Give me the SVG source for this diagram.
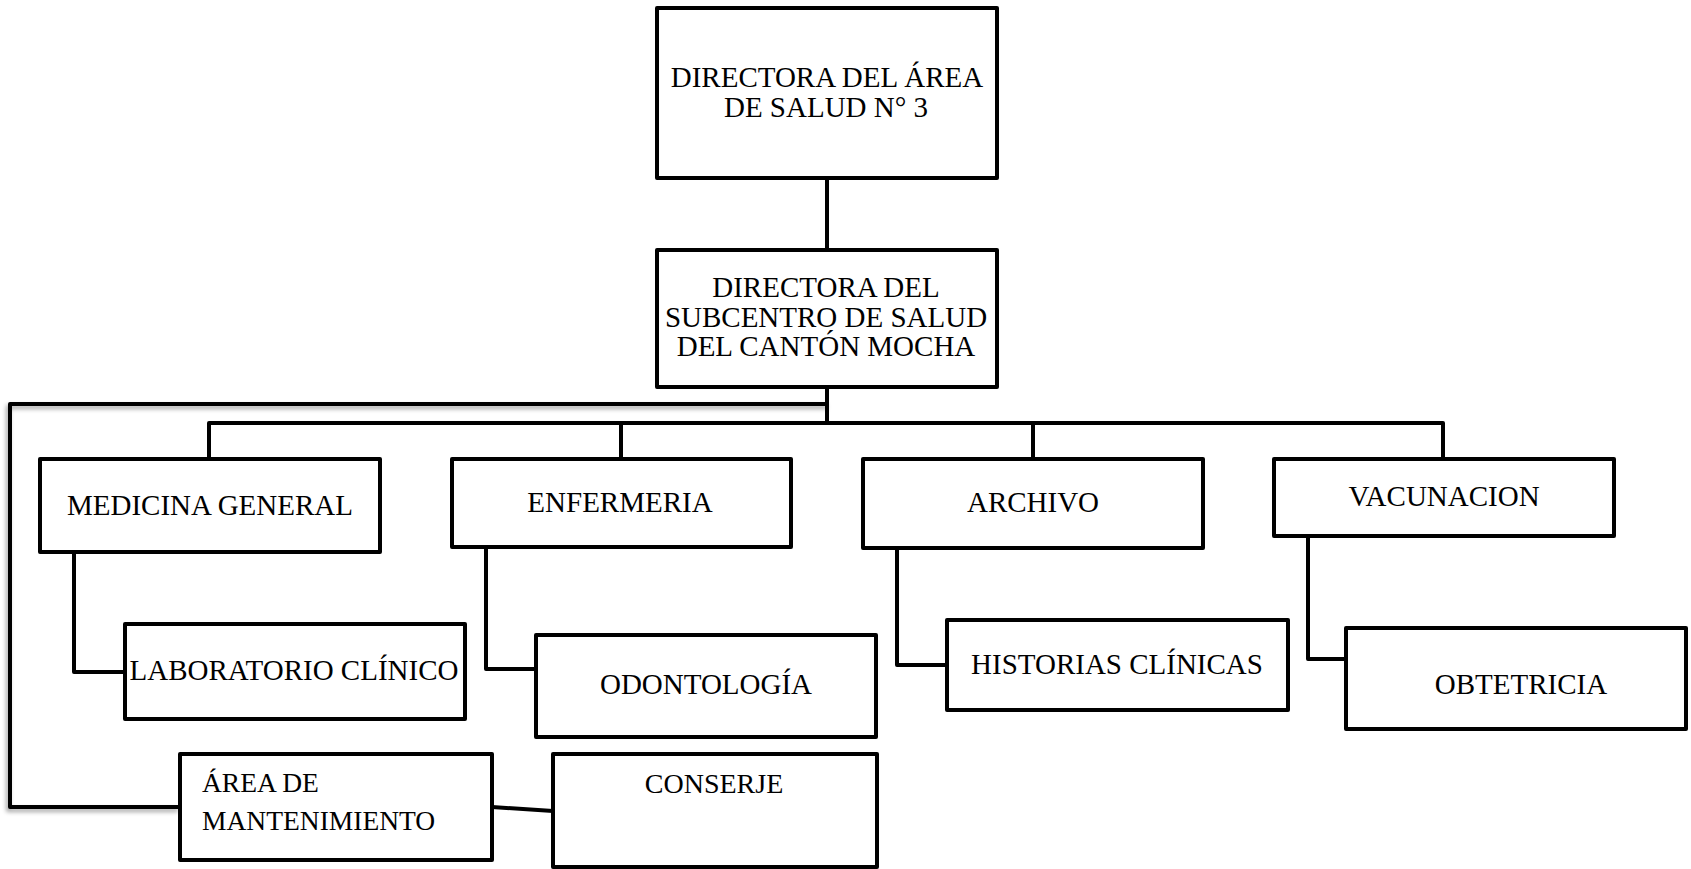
<svg xmlns="http://www.w3.org/2000/svg" width="1691" height="869" viewBox="0 0 1691 869">
<style>
.box{fill:#fff;stroke:#000;stroke-width:4;stroke-linejoin:round}
.ln{fill:none;stroke:#000;stroke-width:4;stroke-linejoin:round}
.t{font-family:"Liberation Serif","Times New Roman",serif;font-size:29px;fill:#000;text-anchor:middle}
.ts{font-family:"Liberation Serif","Times New Roman",serif;font-size:27.5px;fill:#000}
</style>
<defs>
<filter id="sh" x="-5%" y="-20%" width="110%" height="140%">
<feDropShadow dx="-2" dy="3" stdDeviation="2" flood-color="#000" flood-opacity="0.35"/>
</filter>
</defs>
<rect width="1691" height="869" fill="#fff"/>
<g id="connectors">
<path class="ln" filter="url(#sh)" d="M829,404 H10 V807 H180"/>
<path class="ln" d="M827,178 V250"/>
<path class="ln" d="M827,387 V423"/>
<path class="ln" d="M209,459 V423 H1443 V459"/>
<path class="ln" d="M621,423 V459"/>
<path class="ln" d="M1033,423 V459"/>
<path class="ln" d="M74,552 V672 H125"/>
<path class="ln" d="M486,547 V669 H536"/>
<path class="ln" d="M897,548 V665 H947"/>
<path class="ln" d="M1308,536 V659 H1346"/>
<path class="ln" d="M492,807 L553,811"/>
</g>
<g id="n-direc-area">
<rect class="box" x="657" y="8" width="340" height="170"/>
<text class="t" x="827" y="87">DIRECTORA DEL ÁREA</text>
<text class="t" x="826" y="117">DE SALUD N° 3</text>
</g>
<g id="n-direc-subcentro">
<rect class="box" x="657" y="250" width="340" height="137"/>
<text class="t" x="826" y="297">DIRECTORA DEL</text>
<text class="t" x="826" y="327">SUBCENTRO DE SALUD</text>
<text class="t" x="826" y="356">DEL CANTÓN MOCHA</text>
</g>
<g id="n-medicina">
<rect class="box" x="40" y="459" width="340" height="93"/>
<text class="t" x="210" y="515">MEDICINA GENERAL</text>
</g>
<g id="n-enfermeria">
<rect class="box" x="452" y="459" width="339" height="88"/>
<text class="t" x="620" y="512">ENFERMERIA</text>
</g>
<g id="n-archivo">
<rect class="box" x="863" y="459" width="340" height="89"/>
<text class="t" x="1033" y="512">ARCHIVO</text>
</g>
<g id="n-vacunacion">
<rect class="box" x="1274" y="459" width="340" height="77"/>
<text class="t" x="1444" y="506">VACUNACION</text>
</g>
<g id="n-laboratorio">
<rect class="box" x="125" y="624" width="340" height="95"/>
<text class="t" x="294" y="680">LABORATORIO CLÍNICO</text>
</g>
<g id="n-odontologia">
<rect class="box" x="536" y="635" width="340" height="102"/>
<text class="t" x="706" y="694">ODONTOLOGÍA</text>
</g>
<g id="n-historias">
<rect class="box" x="947" y="620" width="341" height="90"/>
<text class="t" x="1117" y="674">HISTORIAS CLÍNICAS</text>
</g>
<g id="n-obtetricia">
<rect class="box" x="1346" y="628" width="340" height="101"/>
<text class="t" x="1521" y="694">OBTETRICIA</text>
</g>
<g id="n-mantenimiento">
<rect class="box" x="180" y="754" width="312" height="106"/>
<text class="ts" x="202" y="792">ÁREA DE</text>
<text class="ts" x="202" y="830">MANTENIMIENTO</text>
</g>
<g id="n-conserje">
<rect class="box" x="553" y="754" width="324" height="113"/>
<text class="t" x="714" y="793" style="font-size:28px">CONSERJE</text>
</g>
</svg>
